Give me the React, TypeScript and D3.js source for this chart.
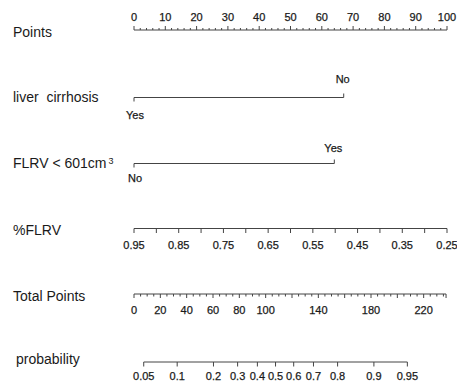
import React from 'react';
import * as d3 from 'd3';

// nomogram data
const pointsTicks = d3.range(0, 101, 10);
const pointsMinor = d3.range(0, 101, 2);

const cirrhosisLevels = ['Yes', 'No'];
const cirrhosisPoints = [0, 67];

const flrvLevels = ['No', 'Yes'];
const flrvPoints = [0, 64];

const pctFlrvLabels = [0.95, 0.85, 0.75, 0.65, 0.55, 0.45, 0.35, 0.25];
const pctFlrvTicks = [0.95, 0.9, 0.85, 0.8, 0.75, 0.7, 0.65, 0.6, 0.55, 0.5, 0.45, 0.4, 0.35, 0.3, 0.25];

const totalLabels = [0, 20, 40, 60, 80, 100, 140, 180, 220];
const totalMinor = d3.range(0, 236, 5);
const totalEnd = 237;

const probLabels = [0.05, 0.1, 0.2, 0.3, 0.4, 0.5, 0.6, 0.7, 0.8, 0.9, 0.95];
// linear predictor -> total points
const lpIntercept = 107.5;
const lpSlope = 34;

const W = 457;
const H = 384;
const font = '"Liberation Sans", Arial, sans-serif';
const stroke = '#444';
const ink = '#1a1a1a';

export default function App() {
  const xPts = d3.scaleLinear().domain([0, 100]).range([134, 447]);
  const xPct = d3.scaleLinear().domain([0.95, 0.25]).range([xPts(0), xPts(100)]);
  const xTot = d3.scaleLinear().domain([0, 240]).range([134, 450]);
  const logit = (p: number) => Math.log(p / (1 - p));
  const xProb = (p: number) => xTot(lpIntercept + lpSlope * logit(p));

  const label = (text: React.ReactNode, x: number, y: number) => (
    <text x={x} y={y} fontSize={14} fontFamily={font} fill={ink} style={{whiteSpace: 'pre'}}>{text}</text>
  );

  const tickText = (key: any, text: string, x: number, y: number) => (
    <text key={key} x={x} y={y} fontSize={11} fontFamily={font} fill={ink} stroke={ink} strokeWidth={0.25}
      textAnchor="middle">{text}</text>
  );

  const factor = (levels: string[], pts: number[], y: number, below: number, above: number) => {
    const x0 = xPts(pts[0]);
    const x1 = xPts(pts[1]);
    return (
      <g>
        <line x1={x0} x2={x1} y1={y} y2={y} stroke={stroke} />
        <line x1={x0} x2={x0} y1={y} y2={y + 4} stroke={stroke} />
        <line x1={x1} x2={x1} y1={y} y2={y - 4} stroke={stroke} />
        {tickText('a', levels[0], x0 + 1, below)}
        {tickText('b', levels[1], x1 - 1, above)}
      </g>
    );
  };

  return (
    <svg width={W} height={H} style={{position: 'absolute', left: 0, top: 0, background: '#fff'}}>
      {label('Points', 13, 37)}
      {label('liver  cirrhosis', 13, 102)}
      {label(<>FLRV &lt; 601cm<tspan fontSize={9} dx={2} dy={-4}>3</tspan></>, 13, 168)}
      {label('%FLRV', 13, 235)}
      {label('Total Points', 13, 301)}
      {label('probability', 16, 364)}

      {/* Points axis */}
      <g>
        <line x1={xPts(0)} x2={xPts(100)} y1={30} y2={30} stroke={stroke} />
        {pointsMinor.map(v => (
          <line key={v} x1={xPts(v)} x2={xPts(v)} y1={30} y2={v % 10 === 0 ? 26 : 28} stroke={stroke} />
        ))}
        {pointsTicks.map(v => tickText(v, String(v), xPts(v), 21))}
      </g>

      {factor(cirrhosisLevels, cirrhosisPoints, 97.5, 119, 83)}
      {factor(flrvLevels, flrvPoints, 163.5, 182, 151.5)}

      {/* %FLRV axis */}
      <g>
        <line x1={xPct(0.95)} x2={xPct(0.25)} y1={228.5} y2={228.5} stroke={stroke} />
        {pctFlrvTicks.map(v => (
          <line key={v} x1={xPct(v)} x2={xPct(v)} y1={228.5} y2={233} stroke={stroke} />
        ))}
        {pctFlrvLabels.map(v => tickText(v, v.toFixed(2), xPct(v), 249))}
      </g>

      {/* Total Points axis */}
      <g>
        <line x1={xTot(0)} x2={xTot(totalEnd)} y1={294} y2={294} stroke={stroke} />
        {totalMinor.map(v => (
          <line key={v} x1={xTot(v)} x2={xTot(v)} y1={294} y2={v % 20 === 0 ? 298 : 296.5} stroke={stroke} />
        ))}
        <line x1={xTot(totalEnd)} x2={xTot(totalEnd)} y1={294} y2={298} stroke={stroke} />
        {totalLabels.map(v => tickText(v, String(v), xTot(v), 314))}
      </g>

      {/* probability axis */}
      <g>
        <line x1={xProb(0.05)} x2={xProb(0.95)} y1={362} y2={362} stroke={stroke} />
        {probLabels.map(v => (
          <line key={v} x1={xProb(v)} x2={xProb(v)} y1={362} y2={366.5} stroke={stroke} />
        ))}
        {probLabels.map(v => tickText(v, String(v), xProb(v), 380))}
      </g>
    </svg>
  );
}
